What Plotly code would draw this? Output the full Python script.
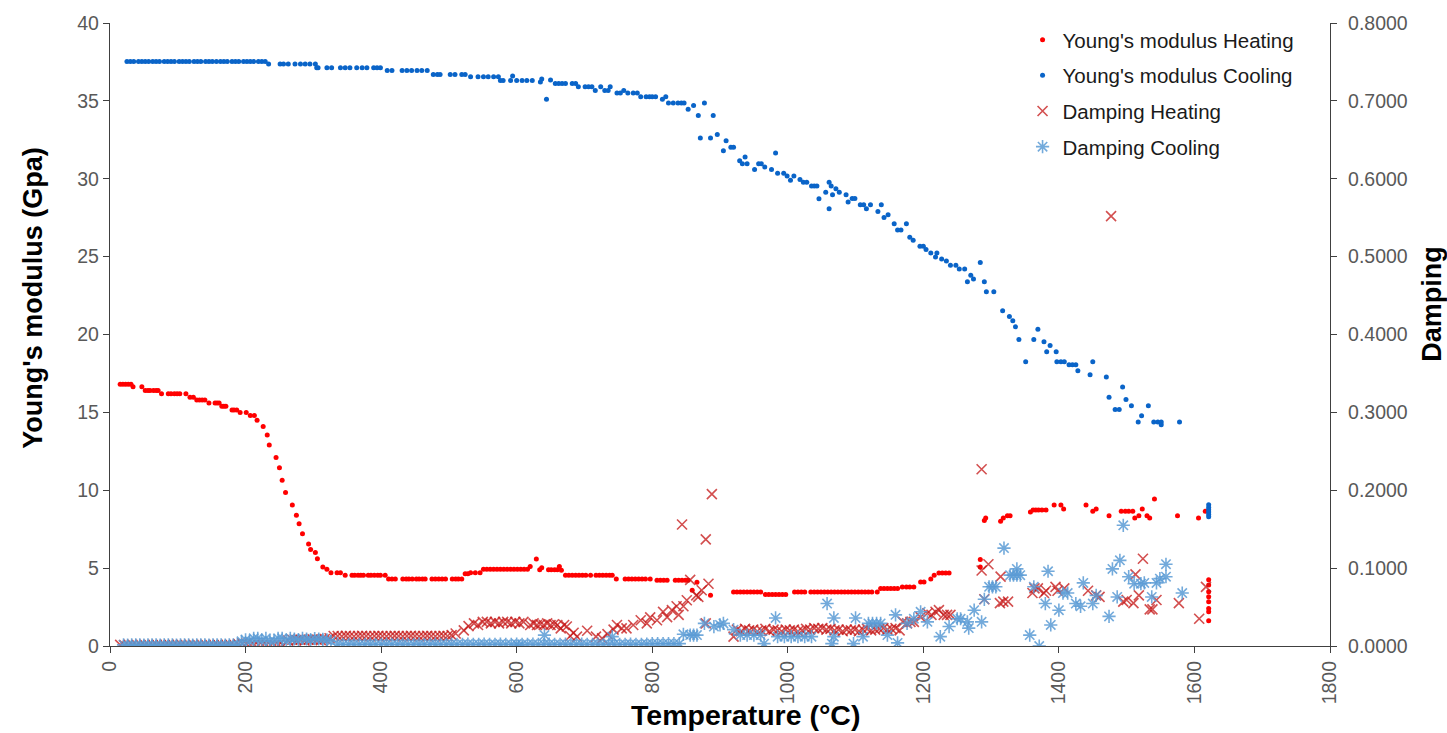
import plotly.graph_objects as go

# ---------------- Young's modulus Heating (GPa) ----------------
yh_T = [15, 19, 23, 27, 31, 34, 47, 52, 56, 59, 64, 68, 71,
        76, 86, 90, 95, 99, 103, 112, 118, 123, 128, 132, 136, 140,
        146, 155, 158, 161, 165, 168, 171, 180, 183, 187, 192, 201, 207, 213,
        217, 226, 232, 235, 245, 250, 254, 259, 269, 275, 279, 284, 293, 296, 303, 306, 314, 320, 326, 335, 340,
        347, 357, 361, 366, 370, 374, 381, 385, 390, 395, 399, 406,
        411, 416, 421, 432, 437, 441, 446, 452, 456, 461, 465, 475, 480, 485, 490, 495, 505, 510, 514, 519,
        524, 528, 532, 539, 546,
        551, 556, 561, 566, 571, 576, 581, 586, 591, 596, 601, 606, 611, 616,
        620, 629, 634, 637, 647, 651, 656, 660, 663, 666,
        672, 677, 682, 687, 692, 697, 702, 709, 717, 722, 727, 732, 737, 741,
        747, 760, 765, 770, 775, 780, 785, 790, 797,
        807, 812, 817, 822, 834, 839, 844, 849, 853, 859, 866, 886,
        920, 925, 930, 935, 940, 945, 950, 955, 960,
        967, 972, 977, 982, 987, 992, 997,
        1010, 1015, 1020, 1025, 1034, 1039, 1044, 1049, 1054, 1059, 1064, 1069,
        1074, 1079, 1084, 1089, 1094, 1099, 1104, 1109, 1114, 1119, 1124, 1132,
        1137, 1142, 1147, 1152, 1157, 1162, 1169, 1175, 1180, 1186,
        1196, 1201, 1211, 1216, 1223, 1228, 1233, 1238,
        1284, 1284, 1290, 1292, 1314, 1318, 1324, 1328,
        1358, 1362, 1366, 1370, 1375, 1381, 1393, 1403, 1407,
        1440, 1450, 1455, 1474, 1492, 1498, 1503, 1509, 1512, 1518, 1523, 1530, 1534, 1541, 1575, 1606, 1616,
        1621, 1621, 1621, 1621, 1621, 1621, 1621, 1621]
yh_E = [16.8, 16.8, 16.8, 16.8, 16.8, 16.65, 16.65, 16.4, 16.4, 16.4, 16.4, 16.4, 16.4,
        16.2, 16.2, 16.2, 16.2, 16.2, 16.2, 16.2, 15.97, 15.97, 15.8, 15.8, 15.8, 15.8,
        15.6, 15.6, 15.6, 15.6, 15.4, 15.4, 15.4, 15.15, 15.15, 15.15, 15.0, 15.0, 14.8, 14.8,
        14.5, 14.1, 13.55, 12.9, 12.1, 11.45, 10.65, 9.85, 9.05, 8.4, 7.85, 7.2, 6.55, 6.2, 6.0, 5.6, 5.07, 4.92, 4.7, 4.7, 4.7,
        4.54, 4.54, 4.54, 4.54, 4.54, 4.54, 4.54, 4.54, 4.54, 4.54, 4.54, 4.54,
        4.3, 4.3, 4.3, 4.3, 4.3, 4.3, 4.3, 4.3, 4.3, 4.3, 4.3, 4.3, 4.3, 4.3, 4.3, 4.3, 4.3, 4.3, 4.3, 4.3,
        4.64, 4.64, 4.7, 4.7, 4.7,
        4.92, 4.92, 4.92, 4.92, 4.92, 4.92, 4.92, 4.92, 4.92, 4.92, 4.92, 4.92, 4.92, 4.92,
        5.1, 5.58, 4.9, 5.03, 4.9, 4.9, 4.9, 4.9, 5.1, 4.86,
        4.54, 4.54, 4.54, 4.54, 4.54, 4.54, 4.54, 4.54, 4.54, 4.54, 4.54, 4.54, 4.54, 4.54,
        4.3, 4.3, 4.3, 4.3, 4.3, 4.3, 4.3, 4.3, 4.3,
        4.22, 4.22, 4.22, 4.22, 4.22, 4.22, 4.22, 4.22, 4.22, 3.58, 4.09, 3.26,
        3.47, 3.47, 3.47, 3.47, 3.47, 3.47, 3.47, 3.47, 3.47,
        3.3, 3.3, 3.3, 3.3, 3.3, 3.3, 3.3,
        3.47, 3.47, 3.47, 3.47, 3.47, 3.47, 3.47, 3.47, 3.47, 3.47, 3.47, 3.47,
        3.47, 3.47, 3.47, 3.47, 3.47, 3.47, 3.47, 3.47, 3.47, 3.47, 3.47, 3.47,
        3.69, 3.69, 3.69, 3.69, 3.69, 3.69, 3.79, 3.79, 3.79, 3.79,
        4.11, 4.11, 4.3, 4.54, 4.68, 4.68, 4.68, 4.68,
        5.56, 5.07, 8.05, 8.22, 8.01, 8.22, 8.37, 8.37,
        8.6, 8.73, 8.73, 8.73, 8.73, 8.73, 9.05, 9.05, 8.8,
        9.05, 8.65, 8.8, 8.37, 8.65, 8.65, 8.65, 8.65, 8.22, 8.37, 8.8, 8.37, 8.22, 9.44, 8.37, 8.22, 8.65,
        4.26, 3.91, 3.48, 3.16, 2.84, 2.41, 2.2, 1.62]

# ---------------- Young's modulus Cooling (GPa) ----------------
yc_T = [25, 30, 35, 42, 47, 52, 57, 63, 68, 73, 80, 85, 90, 95, 102, 107, 112, 117, 124, 129,
        134, 141, 146, 151, 157, 163, 168, 173, 180, 185, 190, 197, 202, 207, 212, 219, 224, 229,
        234, 251, 256, 263, 273, 281, 288, 295, 303,
        305, 307, 320, 327, 340, 347, 354, 364, 372, 379, 389, 394, 399,
        409, 416, 431, 438, 445, 453, 460, 468,
        477, 483, 487, 502, 509, 519, 524,
        532, 543, 551, 558, 566, 573,
        576, 580, 591, 594, 600, 608, 615, 623,
        635, 637, 644, 650, 657, 662, 667, 672, 682, 687, 691, 701, 706, 711, 716, 724, 730, 735, 738,
        748, 753, 758, 764, 772, 778, 783, 791, 796, 800, 805, 815, 820, 824, 831, 838, 843, 847,
        853, 861, 868, 871, 877, 886, 890, 896, 905, 909, 916, 920, 929, 933, 937, 940,
        951, 957, 961, 966, 976, 982, 985, 994, 999, 1004, 1009, 1018, 1023, 1028,
        1035, 1039, 1043, 1046, 1056, 1061, 1061, 1064, 1066, 1071, 1076, 1086, 1089, 1095, 1099,
        1107, 1112, 1116, 1122, 1133, 1138, 1142, 1148, 1157, 1162, 1167, 1175, 1180, 1185,
        1195, 1200, 1204, 1211, 1218, 1220, 1227, 1234, 1240, 1248, 1253, 1261, 1265, 1270, 1274,
        1284, 1290, 1293, 1304, 1317, 1327, 1332, 1336, 1341, 1351, 1363, 1369, 1378, 1382, 1387,
        1396, 1397, 1403, 1408, 1415, 1420, 1425, 1428, 1446, 1450, 1470, 1474, 1483, 1489, 1494,
        1499, 1507, 1517, 1522, 1532, 1540, 1546, 1551, 1551, 1578,
        1621, 1621, 1621, 1621, 1621, 1621]
yc_E = [37.53, 37.53, 37.53, 37.53, 37.53, 37.53, 37.53, 37.53, 37.53, 37.53, 37.53, 37.53, 37.53, 37.53, 37.53, 37.53, 37.53, 37.53, 37.53, 37.53,
        37.53, 37.53, 37.53, 37.53, 37.53, 37.53, 37.53, 37.53, 37.53, 37.53, 37.53, 37.53, 37.53, 37.53, 37.53, 37.53, 37.53, 37.53,
        37.36, 37.36, 37.36, 37.36, 37.36, 37.36, 37.36, 37.36, 37.36,
        37.12, 37.12, 37.12, 37.12, 37.12, 37.12, 37.12, 37.12, 37.12, 37.12, 37.12, 37.12, 37.12,
        36.95, 36.95, 36.95, 36.95, 36.95, 36.95, 36.95, 36.95,
        36.7, 36.7, 36.7, 36.7, 36.7, 36.7, 36.7,
        36.55, 36.55, 36.55, 36.55, 36.55, 36.55,
        36.31, 36.31, 36.31, 36.6, 36.31, 36.31, 36.31, 36.31,
        36.21, 36.4, 35.1, 36.34, 36.12, 36.12, 36.12, 36.12, 36.12, 36.12, 35.91, 35.91, 35.91, 35.91, 35.67, 35.91, 35.67, 35.67, 35.91,
        35.5, 35.5, 35.67, 35.5, 35.5, 35.5, 35.27, 35.27, 35.27, 35.27, 35.27, 35.1, 35.27, 34.87, 34.87, 34.87, 34.87, 34.87,
        34.46, 34.7, 34.06, 32.61, 34.87, 32.61, 34.06, 32.84, 31.8, 32.44, 32.03, 32.03, 31.16, 30.97, 31.39, 30.97,
        30.59, 30.97, 30.97, 30.76, 30.59, 31.65, 30.35, 30.35, 30.18, 29.9, 30.18, 29.95, 29.78, 29.78,
        29.54, 29.54, 29.54, 28.71, 29.14, 29.78, 28.07, 29.54, 28.97, 29.35, 29.14, 28.97, 28.5, 28.73, 28.73,
        28.33, 28.33, 28.07, 28.33, 27.9, 28.33, 27.52, 27.69, 27.11, 26.71, 26.71, 27.11, 26.24, 26.05,
        25.67, 25.67, 25.45, 25.24, 24.98, 25.24, 24.84, 24.72, 24.45, 24.45, 24.2, 24.2, 23.39, 23.81, 23.56,
        24.62, 23.39, 22.75, 22.75, 21.53, 21.15, 20.89, 20.49, 19.68, 18.25, 19.68, 20.34, 19.53, 18.89, 19.3,
        18.89, 18.25, 18.25, 18.25, 18.06, 18.06, 18.06, 17.68, 17.42, 18.25, 17.27, 15.97, 15.19, 15.19, 16.63,
        15.83, 15.42, 14.38, 14.78, 15.42, 14.38, 14.38, 14.38, 14.2, 14.38,
        9.07, 8.9, 8.75, 8.6, 8.45, 8.3]

# ---------------- Damping Heating ----------------
dh_T = [15, 21, 27, 33, 39, 45, 51, 57, 63, 69, 75, 81, 87, 93, 99, 105, 111, 117, 123, 129,
        135, 141, 147, 153, 159, 165, 171, 177, 183, 189, 195, 201, 207, 213, 219, 225, 231, 237, 243, 249, 255,
        263, 269, 275, 281, 287, 293, 299, 305, 311, 317, 324,
        330, 336, 342, 348, 354, 360, 366, 372, 378, 384, 390, 396, 402, 408, 414, 420,
        426, 432, 438, 444, 450, 456, 462, 468, 474, 480, 486, 492, 498, 504, 510,
        522, 529, 537, 543, 550, 556, 562, 568, 574, 580, 586, 592, 598, 604, 610,
        620, 625, 630, 635, 640, 645, 650, 655, 660, 665, 670, 674,
        679, 684, 689, 704, 717, 726, 734, 743, 748, 755, 762, 772,
        783, 792, 797, 807, 816, 822, 829, 836, 839, 844, 846, 851,
        856, 865, 868, 873, 879, 879, 883, 888, 920,
        925, 931, 937, 943, 949, 955, 961, 967, 973, 979, 985, 991, 997, 1003,
        1009, 1015, 1021, 1027, 1033, 1039, 1045, 1051, 1057, 1063, 1069, 1075, 1081, 1087,
        1093, 1099, 1105, 1111, 1117, 1123, 1129, 1135, 1141, 1147, 1153, 1159, 1165,
        1170, 1176, 1181, 1186, 1196, 1206, 1212, 1218, 1223, 1230, 1235, 1240,
        1286, 1286, 1290, 1296, 1313, 1314, 1318, 1325,
        1361, 1364, 1369, 1378, 1381, 1395, 1398, 1408, 1443, 1455, 1460, 1477,
        1495, 1500, 1510, 1513, 1518, 1524, 1534, 1538, 1544, 1577, 1607, 1617]
dh_D = [0.0015, 0.0012, 0.0013, 0.0015, 0.0012, 0.0013, 0.0014, 0.0012, 0.0013, 0.0015, 0.0012, 0.0013, 0.0014, 0.0012, 0.0013, 0.0015, 0.0012, 0.0013, 0.0014, 0.0012,
        0.0013, 0.0015, 0.0012, 0.0013, 0.0014, 0.0012, 0.0013, 0.0015, 0.0012, 0.0025, 0.0035, 0.003, 0.0013, 0.0015, 0.0012, 0.0013, 0.0014, 0.0012, 0.0013, 0.0015, 0.0012,
        0.007, 0.008, 0.0075, 0.008, 0.007, 0.008, 0.0085, 0.008, 0.0075, 0.009, 0.01,
        0.0128, 0.0128, 0.0125, 0.013, 0.0128, 0.0125, 0.0128, 0.013, 0.0128, 0.0125, 0.0128, 0.013, 0.0128, 0.0125, 0.0128, 0.013,
        0.0128, 0.0125, 0.0128, 0.013, 0.0128, 0.0125, 0.0128, 0.013, 0.0128, 0.0125, 0.0128, 0.013, 0.0128, 0.014, 0.016,
        0.02, 0.0256, 0.029, 0.027, 0.031, 0.031, 0.029, 0.031, 0.029, 0.031, 0.031, 0.029, 0.031, 0.029, 0.031,
        0.027, 0.029, 0.027, 0.028, 0.027, 0.029, 0.027, 0.028, 0.027, 0.0226, 0.027, 0.025,
        0.0128, 0.017, 0.012, 0.0196, 0.012, 0.0098, 0.0153, 0.021, 0.027, 0.0226, 0.0226, 0.027,
        0.033, 0.029, 0.0367, 0.033, 0.0439, 0.037, 0.046, 0.051, 0.04, 0.156, 0.051, 0.0588,
        0.085, 0.065, 0.063, 0.0716, 0.137, 0.029, 0.08, 0.195, 0.012,
        0.021, 0.019, 0.022, 0.02, 0.021, 0.019, 0.02, 0.022, 0.019, 0.021, 0.02, 0.019, 0.021, 0.02,
        0.021, 0.019, 0.02, 0.022, 0.021, 0.023, 0.022, 0.023, 0.021, 0.022, 0.02, 0.021, 0.019, 0.021,
        0.02, 0.021, 0.019, 0.021, 0.022, 0.02, 0.021, 0.022, 0.023, 0.021, 0.022, 0.023, 0.02,
        0.031, 0.029, 0.031, 0.031, 0.037, 0.042, 0.04, 0.044, 0.046, 0.04, 0.04, 0.04,
        0.227, 0.097, 0.06, 0.105, 0.055, 0.089, 0.057, 0.057,
        0.068, 0.074, 0.074, 0.068, 0.071, 0.076, 0.071, 0.074, 0.071, 0.065, 0.063, 0.552,
        0.057, 0.059, 0.055, 0.092, 0.065, 0.112, 0.047, 0.047, 0.059, 0.055, 0.035, 0.076]

# ---------------- Damping Cooling ----------------
dc_T = [20, 26, 32, 38, 44, 50, 56, 62, 68, 74, 80, 86, 92, 98, 104, 110, 116, 122, 128, 134,
        140, 146, 152, 158, 164, 170, 176, 182, 188, 194, 200,
        206, 212, 218, 224, 230, 236, 242, 248, 254, 260, 266, 272, 278, 284, 290, 296, 302, 308, 314, 320, 326,
        336, 344, 352, 360, 368, 376, 384, 392, 400, 408, 416, 424, 432, 440, 448, 456, 464, 472, 480, 488,
        496, 504, 512, 520, 528, 536, 544, 552, 560, 568, 576, 584, 592, 600, 603, 608, 616, 624, 632, 640, 641,
        648, 656, 664, 672, 680, 688, 696, 704, 712, 720, 728, 736, 741, 744, 752, 760, 768, 776, 784, 792, 800,
        808, 816, 824, 832, 840, 846, 856, 861, 866, 877, 891, 900, 905, 920,
        930, 940, 950, 960, 965, 982, 985, 995, 1005, 1015, 1025, 1035,
        1058, 1065, 1068, 1068, 1097, 1100, 1111, 1119, 1125, 1131, 1137, 1147,
        1159, 1162, 1176, 1186, 1196, 1206, 1225, 1238, 1250, 1255, 1265, 1267, 1275,
        1286, 1290, 1297, 1302, 1307, 1319, 1328, 1333, 1338, 1338, 1343, 1357, 1363, 1371,
        1380, 1384, 1388, 1400, 1406, 1413, 1425, 1432, 1436, 1450, 1455, 1474,
        1479, 1486, 1490, 1495, 1503, 1511, 1521, 1526, 1537, 1544, 1549, 1558, 1558, 1582]
dc_D = [0.0015, 0.0013, 0.0015, 0.0014, 0.0015, 0.0013, 0.0015, 0.0014, 0.0015, 0.0013, 0.0015, 0.0014, 0.0015, 0.0013, 0.0015, 0.0014, 0.0015, 0.0013, 0.0015, 0.0014,
        0.0015, 0.0013, 0.0015, 0.0014, 0.0015, 0.0013, 0.0015, 0.0014, 0.0015, 0.006, 0.008,
        0.006, 0.0098, 0.0098, 0.006, 0.0098, 0.006, 0.0065, 0.0098, 0.0098, 0.006, 0.0098, 0.009, 0.008, 0.0098, 0.009, 0.008, 0.0095, 0.009, 0.0085, 0.008, 0.006,
        0.0025, 0.002, 0.0022, 0.0025, 0.002, 0.0022, 0.0025, 0.002, 0.0022, 0.0025, 0.002, 0.0022, 0.0025, 0.002, 0.0022, 0.0025, 0.002, 0.0022, 0.0025, 0.002,
        0.0022, 0.0025, 0.002, 0.0022, 0.0025, 0.002, 0.0022, 0.0025, 0.002, 0.0022, 0.0025, 0.002, 0.0022, 0.0025, 0.0, 0.002, 0.0022, 0.0025, 0.002, 0.0022, 0.014,
        0.0025, 0.002, 0.0022, 0.0025, 0.002, 0.0022, 0.0025, 0.002, 0.0022, 0.0025, 0.002, 0.0022, 0.012, 0.0025, 0.002, 0.0022, 0.0025, 0.002, 0.0022, 0.0025, 0.003,
        0.003, 0.003, 0.003, 0.003, 0.003, 0.015, 0.014, 0.014, 0.014, 0.029, 0.025, 0.027, 0.029, 0.021,
        0.014, 0.014, 0.014, 0.014, 0.003, 0.036, 0.012, 0.012, 0.012, 0.012, 0.012, 0.012,
        0.0545, 0.003, 0.036, 0.012, 0.003, 0.036, 0.012, 0.029, 0.029, 0.029, 0.029, 0.014,
        0.04, 0.004, 0.029, 0.035, 0.044, 0.031, 0.012, 0.025, 0.035, 0.035, 0.031, 0.023, 0.046,
        0.031, 0.06, 0.076, 0.076, 0.076, 0.1257, 0.091, 0.091, 0.099, 0.091, 0.091, 0.014, 0.076, 0.0,
        0.0545, 0.096, 0.027, 0.046, 0.068, 0.068, 0.0545, 0.051, 0.081, 0.0545, 0.065, 0.038,
        0.099, 0.063, 0.11, 0.155, 0.089, 0.08, 0.08, 0.081, 0.063, 0.081, 0.0865, 0.089, 0.105, 0.068]

series_names = ["Young's modulus Heating", "Young's modulus Cooling", "Damping Heating", "Damping Cooling"]
x_ticks = [0, 200, 400, 600, 800, 1000, 1200, 1400, 1600, 1800]
y_ticks = [0, 5, 10, 15, 20, 25, 30, 35, 40]
y2_ticks = [0, 0.1, 0.2, 0.3, 0.4, 0.5, 0.6, 0.7, 0.8]

FONT = "Liberation Sans, Arial, sans-serif"
TICK_FONT = dict(family=FONT, size=19.5, color="#595959")

fig = go.Figure()
fig.add_trace(go.Scatter(x=yh_T, y=yh_E, mode="markers", name=series_names[0], legendgroup="a",
                         marker=dict(symbol="circle", size=5, color="#FF0000", line=dict(width=0))))
fig.add_trace(go.Scatter(x=yc_T, y=yc_E, mode="markers", name=series_names[1], legendgroup="b",
                         marker=dict(symbol="circle", size=5, color="#0A64C8", line=dict(width=0))))
fig.add_trace(go.Scatter(x=dh_T, y=dh_D, mode="markers", name=series_names[2], yaxis="y2", legendgroup="c",
                         marker=dict(symbol="x-thin", size=10, color="rgba(196,20,20,0.75)",
                                     line=dict(width=1.6, color="rgba(196,20,20,0.75)"))))
fig.add_trace(go.Scatter(x=dc_T, y=dc_D, mode="markers", name=series_names[3], yaxis="y2", legendgroup="d",
                         marker=dict(symbol="asterisk", size=11, color="rgba(91,155,213,0.85)",
                                     line=dict(width=1.6, color="rgba(91,155,213,0.85)"))))

axis_common = dict(showgrid=False, zeroline=False, showline=True, linecolor="#404040", linewidth=1.3,
                   ticks="outside", ticklen=6, tickcolor="#404040", tickfont=TICK_FONT)

fig.update_layout(
    width=1447, height=733,
    margin=dict(l=110, r=117, t=20, b=87),
    paper_bgcolor="white", plot_bgcolor="white",
    showlegend=True,
    legend=dict(x=0.748, y=1.005, xanchor="left", yanchor="top", bgcolor="rgba(0,0,0,0)",
                font=dict(family=FONT, size=20.5, color="#1a1a1a"), tracegroupgap=6,
                traceorder="grouped", itemsizing="trace"),
    xaxis=dict(range=[0, 1800], tickvals=x_ticks, tickangle=-90, **axis_common),
    yaxis=dict(range=[0, 40], tickvals=y_ticks, **axis_common),
    yaxis2=dict(range=[0, 0.8], tickvals=y2_ticks, tickformat=".4f", overlaying="y", side="right",
                ticklabelstandoff=7, **axis_common),
    annotations=[
        dict(text="<b>Temperature (°C)</b>", xref="paper", yref="paper", x=0.5205, y=-0.110,
             xanchor="center", yanchor="middle", showarrow=False,
             font=dict(family=FONT, size=28.5, color="black")),
        dict(text="<b>Young's modulus (Gpa)</b>", xref="paper", yref="paper", x=-0.0631, y=0.5575,
             xanchor="center", yanchor="middle", showarrow=False, textangle=-90,
             font=dict(family=FONT, size=27, color="black")),
        dict(text="<b>Damping</b>", xref="paper", yref="paper", x=1.0836, y=0.5495,
             xanchor="center", yanchor="middle", showarrow=False, textangle=-90,
             font=dict(family=FONT, size=27, color="black")),
    ],
)

fig.write_html("out.html", config={"displayModeBar": False},
               post_script="document.body.style.margin='0px';document.body.style.overflow='hidden';")
